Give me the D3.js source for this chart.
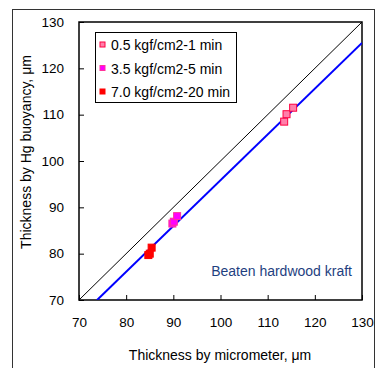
<!DOCTYPE html>
<html>
<head>
<meta charset="utf-8">
<script src="https://cdn.jsdelivr.net/npm/d3@7"></script>
<style>
  html, body { margin: 0; padding: 0; background: #fff; }
  svg text { font-family: "Liberation Sans", Arial, sans-serif; fill: #000; }
</style>
</head>
<body>
<svg id="chart" width="379" height="368"></svg>
<script>
// Pressing conditions (legend entries)
const seriesNames = ["0.5 kgf/cm2-1 min", "3.5 kgf/cm2-5 min", "7.0 kgf/cm2-20 min"];
const seriesFill = ["#FF7FAA", "#FF00FF", "#FF0000"];
const seriesStroke = ["#FF0040", "#FF3399", "#FF0000"];

// Thickness by micrometer (µm) for each series
const micrometer = [
  [113.5, 114.0, 115.4],
  [89.8, 90.1, 90.8],
  [84.7, 85.0, 85.4]
];
// Thickness by Hg buoyancy (µm) for each series
const buoyancy = [
  [108.5, 110.1, 111.5],
  [86.5, 86.9, 88.1],
  [79.7, 80.0, 81.3]
];

// Regression line: buoyancy = slope * micrometer + intercept
const fitSlope = 0.988;
const fitIntercept = -2.95;

const ticks = [70, 80, 90, 100, 110, 120, 130];
const domain = [70, 130];

const svg = d3.select("#chart");

// outer frame
svg.append("rect")
  .attr("x", 12.5).attr("y", 9.5)
  .attr("width", 362).attr("height", 370)
  .attr("fill", "none").attr("stroke", "#333").attr("stroke-width", 1);

const plot = { left: 79, right: 362, top: 22, bottom: 300 };

const x = d3.scaleLinear().domain(domain).range([plot.left, plot.right]);
const y = d3.scaleLinear().domain(domain).range([plot.bottom, plot.top]);

const clipId = "plotclip";
svg.append("clipPath").attr("id", clipId)
  .append("rect")
  .attr("x", plot.left).attr("y", plot.top)
  .attr("width", plot.right - plot.left).attr("height", plot.bottom - plot.top);

// axes with inward ticks
const xAxis = d3.axisBottom(x).tickValues(ticks).tickSize(-5).tickPadding(17).tickFormat(d3.format("d"));
const yAxis = d3.axisLeft(y).tickValues(ticks).tickSize(-5).tickPadding(15).tickFormat(d3.format("d"));

const gx = svg.append("g").attr("transform", `translate(0,${plot.bottom})`).call(xAxis);
const gy = svg.append("g").attr("transform", `translate(${plot.left},0)`).call(yAxis);
[gx, gy].forEach(g => {
  g.select(".domain").remove();
  g.selectAll(".tick line").attr("stroke", "#000");
  g.selectAll(".tick text").style("font-size", "13.5px").attr("fill", "#000");
});

// plot frame
svg.append("rect")
  .attr("x", plot.left).attr("y", plot.top)
  .attr("width", plot.right - plot.left).attr("height", plot.bottom - plot.top)
  .attr("fill", "none").attr("stroke", "#000").attr("stroke-width", 1.5);

const lines = svg.append("g").attr("clip-path", `url(#${clipId})`);

// 1:1 line
lines.append("line")
  .attr("x1", x(domain[0])).attr("y1", y(domain[0]))
  .attr("x2", x(domain[1])).attr("y2", y(domain[1]))
  .attr("stroke", "#000").attr("stroke-width", 1);

// regression line
const fx0 = (domain[0] - fitIntercept) / fitSlope;
const fx1 = domain[1];
lines.append("line")
  .attr("x1", x(fx0)).attr("y1", y(fitSlope * fx0 + fitIntercept))
  .attr("x2", x(fx1)).attr("y2", y(fitSlope * fx1 + fitIntercept))
  .attr("stroke", "#0000FF").attr("stroke-width", 2);

// data markers
const size = 7;
seriesNames.forEach((name, i) => {
  const pts = micrometer[i].map((v, j) => [v, buoyancy[i][j]]);
  svg.append("g").selectAll("rect")
    .data(pts).join("rect")
    .attr("x", d => x(d[0]) - size / 2)
    .attr("y", d => y(d[1]) - size / 2)
    .attr("width", size).attr("height", size)
    .attr("fill", seriesFill[i])
    .attr("stroke", seriesStroke[i]).attr("stroke-width", 1);
});

// legend
const legend = svg.append("g");
legend.append("rect")
  .attr("x", 95.5).attr("y", 32.5).attr("width", 141).attr("height", 70)
  .attr("fill", "#fff").attr("stroke", "#000").attr("stroke-width", 1);
seriesNames.forEach((name, i) => {
  const cy = 45 + i * 23.5;
  legend.append("rect")
    .attr("x", 100).attr("y", cy - 3).attr("width", 5).attr("height", 5)
    .attr("fill", seriesFill[i]).attr("stroke", seriesStroke[i]).attr("stroke-width", 1);
  legend.append("text")
    .attr("x", 111).attr("y", cy + 5)
    .style("font-size", "14px")
    .text(name);
});

// annotation
svg.append("text")
  .attr("x", 352).attr("y", 276)
  .attr("text-anchor", "end")
  .style("font-size", "14px")
  .style("fill", "#1F3F7F")
  .text("Beaten hardwood kraft");

// axis titles
svg.append("text")
  .attr("x", 220).attr("y", 360)
  .attr("text-anchor", "middle")
  .style("font-size", "14px")
  .text("Thickness by micrometer, μm");

svg.append("text")
  .attr("transform", `translate(31,152) rotate(-90)`)
  .attr("text-anchor", "middle")
  .style("font-size", "14px")
  .text("Thickness by Hg buoyancy, μm");
</script>
</body>
</html>
